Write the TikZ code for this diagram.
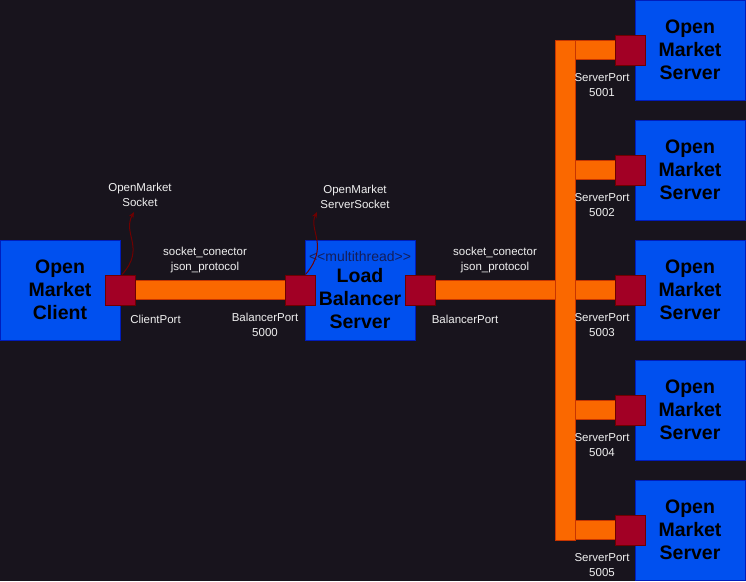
\documentclass[tikz,border=0pt]{standalone}
\usepackage{fontspec}
\setmainfont{Liberation Sans}
\usetikzlibrary{arrows.meta}
\definecolor{bgc}{HTML}{18141D}
\definecolor{boxfill}{HTML}{0050EF}
\definecolor{boxline}{HTML}{001DBC}
\definecolor{portfill}{HTML}{A20025}
\definecolor{portline}{HTML}{6F0000}
\definecolor{barfill}{HTML}{FA6800}
\definecolor{barline}{HTML}{C73500}
\definecolor{labc}{HTML}{F0F0F0}
\definecolor{mtc}{HTML}{141E5A}
\pgfdeclarelayer{back}
\pgfdeclarelayer{bars}
\pgfsetlayers{back,bars,main}
\tikzset{
  box/.style={draw=boxline, fill=boxfill, line width=1pt, rectangle, inner sep=0pt,
    minimum width=110pt, minimum height=100pt, align=center,
    font=\fontsize{19.5}{23}\selectfont\bfseries, text=black},
  port/.style={draw=portline, fill=portfill, line width=1pt, rectangle, inner sep=0pt,
    minimum width=30pt, minimum height=30pt},
  lab/.style={text=labc, align=center, inner sep=1pt, font=\fontsize{11.5}{15}\selectfont},
  bar/.style={draw=barline, line width=1pt, double=barfill, double distance=18pt},
  busbox/.style={draw=barline, fill=barfill, line width=1pt, rectangle, inner sep=0pt,
    minimum width=20pt, minimum height=500pt},
  ptr/.style={draw=portline, line width=1pt, -{Stealth[length=6pt,width=5pt]}}
}
\begin{document}
\begin{tikzpicture}[x=1pt,y=-1pt]
\begin{pgfonlayer}{back}
\fill[bgc] (0,0) rectangle (746,581);
\end{pgfonlayer}
\useasboundingbox (0,0) rectangle (746,581);

% boxes
\node[box, minimum width=120pt] (client) at (60,290) {Open\\Market\\Client};
\node[box] (lb) at (360,290) {{\color{mtc}\fontsize{14}{16}\selectfont\mdseries <\kern0pt<multithread>\kern0pt>}\\[-2pt]Load\\Balancer\\Server};
\foreach \i in {1,...,5}{
  \node[box] (srv\i) at (690,{50+120*(\i-1)}) {Open\\Market\\Server};
}

% ports
\node[port] (cport) at (120,290) {};
\node[port] (bport1) at (300,290) {};
\node[port] (bport2) at (420,290) {};
\foreach \i in {1,...,5}{
  \node[port] (sport\i) at (630,{50+120*(\i-1)}) {};
}

% bus
\begin{pgfonlayer}{bars}
\draw[bar] (cport.east) -- (bport1.west);
\draw[bar] (bport2.east) -- (565,290);
\node[busbox] (bus) at (565,290) {};
\foreach \i in {1,...,5}{
  \draw[bar] (bus.east |- sport\i) -- (sport\i.west);
}
\end{pgfonlayer}

% labels
\node[lab] (clab) at (155.5,319) {ClientPort};
\node[lab] (b1lab) at (265,325) {BalancerPort\\5000};
\node[lab] (b2lab) at (465,319) {BalancerPort};
\node[lab] (con1) at (205,260.5) {socket\_conector\\json\_protocol};
\node[lab] (con2) at (495,260.5) {socket\_conector\\json\_protocol};
\foreach \i in {1,...,5}{
  \node[lab] (slab\i) at (602,{85+120*(\i-1)}) {ServerPort\\500\i};
}
\node[lab] (soclab) at (140,195) {OpenMarket\\Socket};
\node[lab] (ssoclab) at (355,197) {OpenMarket\\ServerSocket};

% pointer curves
\coordinate (t1) at (134,212);
\coordinate (t2) at (317,212);
\draw[ptr] (cport.north) ++(2,0) .. controls (146,248) and (122,234) .. (t1);
\draw[ptr] (bport1.north east) ++(-10,0) .. controls (330,246) and (308,230) .. (t2);
\end{tikzpicture}
\end{document}
